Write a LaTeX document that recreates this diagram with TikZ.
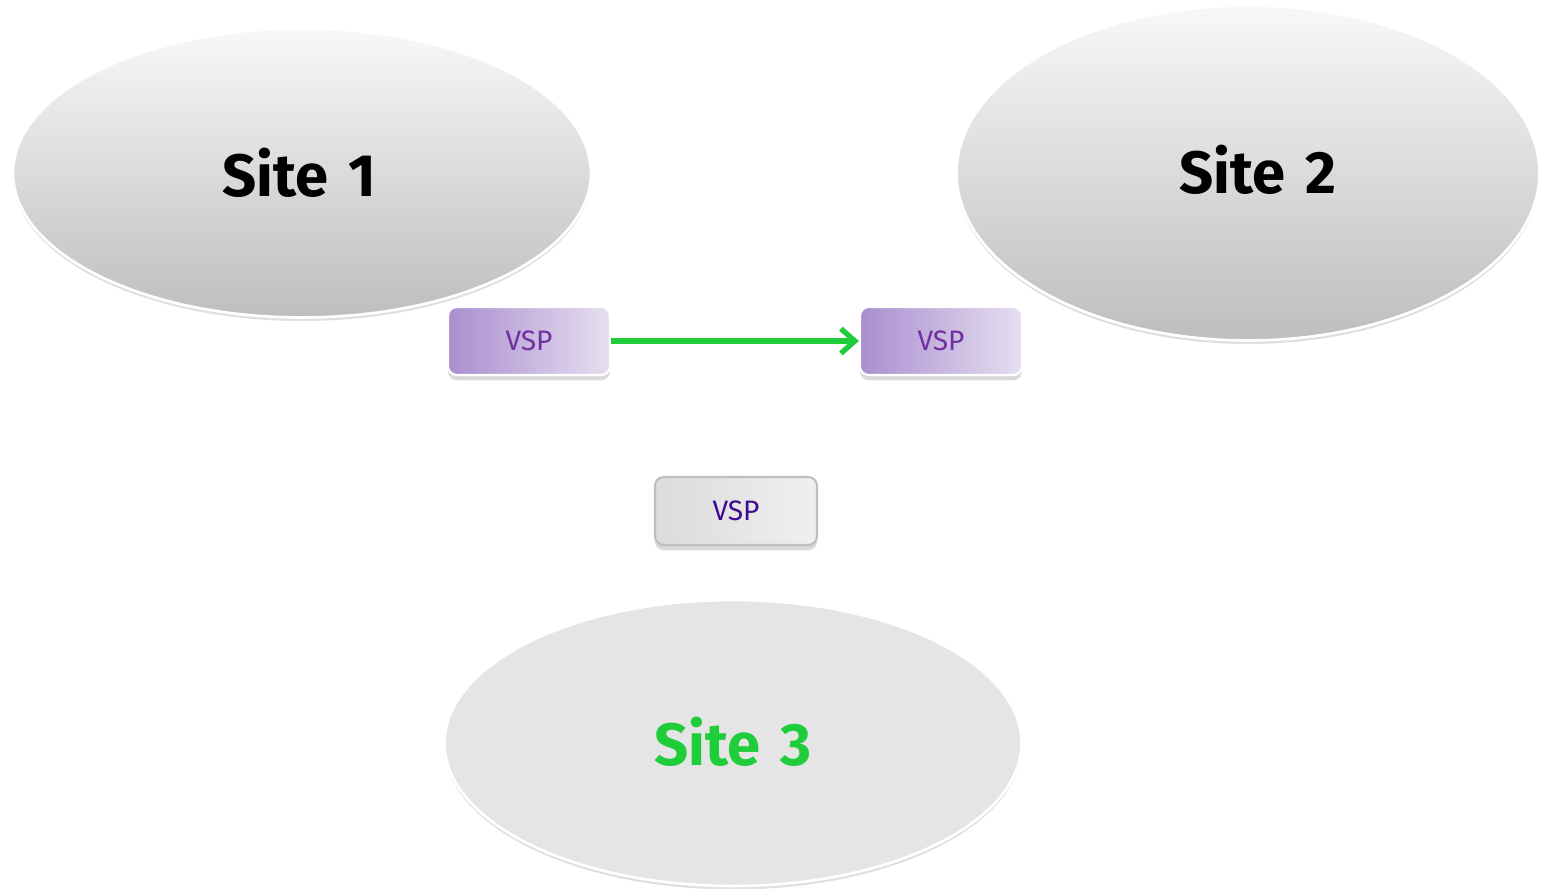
\documentclass[tikz,border=0pt]{standalone}
\usepackage{fontspec}
\newfontfamily\sitefont{Fira Sans}
\usetikzlibrary{arrows.meta,shadows,shapes.geometric}
\definecolor{siteTop}{HTML}{F8F8F8}
\definecolor{siteBot}{HTML}{BEBEBE}
\definecolor{siteFlat}{HTML}{E5E5E5}
\definecolor{vspLeft}{HTML}{AA8ECF}
\definecolor{vspRight}{HTML}{E6DFF0}
\definecolor{vspText}{HTML}{7030A0}
\definecolor{vspDark}{HTML}{3D0A91}
\definecolor{linkGreen}{HTML}{1FCC3A}
\tikzset{
  site/.style={ellipse, draw=white, line width=1.5pt, top color=siteTop, bottom color=siteBot,
    drop shadow={shadow xshift=0pt, shadow yshift=-2pt, opacity=0.25},
    font=\sitefont\bfseries\fontsize{34}{40}\selectfont},
  vsp/.style={rounded corners=5pt, draw=white, line width=1.2pt, left color=vspLeft, right color=vspRight,
    minimum width=3.24cm, minimum height=1.36cm, text=vspText,
    drop shadow={shadow xshift=0pt, shadow yshift=-3pt, opacity=0.3},
    font=\sitefont\fontsize{16}{18}\selectfont},
}
\begin{document}
\begin{tikzpicture}[x=0.02cm,y=-0.02cm]
  \useasboundingbox (0,0) rectangle (1545,889);
  \node[site, minimum width=11.56cm, minimum height=5.78cm] (s1) at (302,173) {};
  \node[site, minimum width=11.66cm, minimum height=6.7cm] (s2) at (1248,173) {};
  \node[site, top color=siteFlat, bottom color=siteFlat,
    minimum width=11.54cm, minimum height=5.72cm] (s3) at (733,743) {};
  \node[font=\sitefont\bfseries\fontsize{34}{40}\selectfont] (t1) at (299,173) {Site\,\,1};
  \node[font=\sitefont\bfseries\fontsize{34}{40}\selectfont] (t2) at (1258,170) {Site\,\,2};
  \node[font=\sitefont\bfseries\fontsize{34}{40}\selectfont, text=linkGreen] (t3) at (733,742) {Site\,\,3};
  \node[vsp] (v1) at (529,341) {VSP};
  \node[vsp] (v2) at (941,341) {VSP};
  \node[vsp, left color=black!14, right color=black!6, draw=black!25, text=vspDark] (v3) at (736,511) {VSP};
  \draw[linkGreen, line width=3pt, -{Straight Barb[length=8pt,width=14pt]}] (v1) -- (v2);
\end{tikzpicture}
\end{document}
